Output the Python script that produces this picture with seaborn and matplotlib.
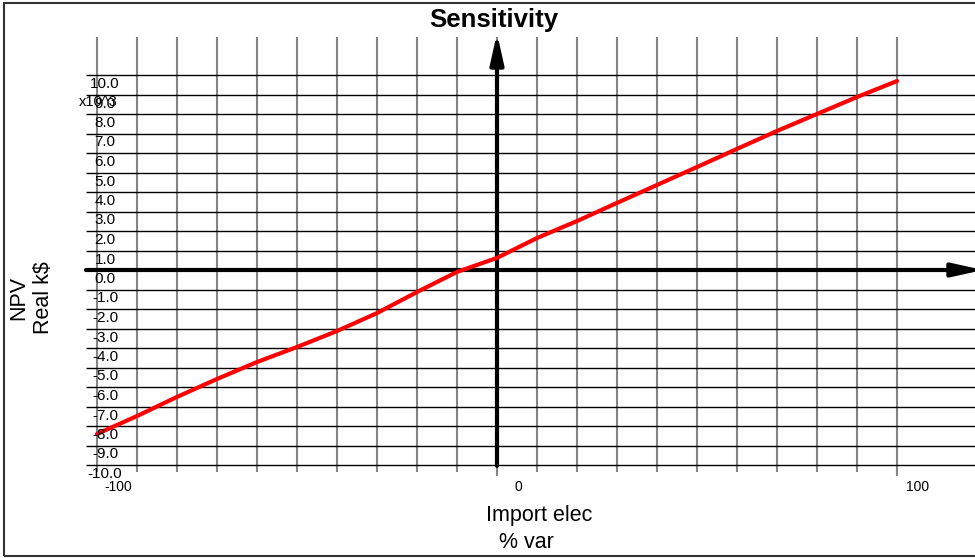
import matplotlib
matplotlib.use("Agg")
import matplotlib.pyplot as plt
from matplotlib.patches import Rectangle
import pandas as pd
import seaborn as sns

# Sensitivity of NPV (thousands of real $) to the import electricity variation (%)
pct_var = [-100, -90, -80, -70, -60, -50, -40, -30, -20, -10, 0,
           10, 20, 30, 40, 50, 60, 70, 80, 90, 100]
npv_k = [-8.41, -7.49, -6.51, -5.59, -4.72, -3.95, -3.13, -2.21, -1.13, -0.10, 0.62,
         1.64, 2.51, 3.44, 4.36, 5.28, 6.21, 7.13, 8.00, 8.87, 9.69]

x_grid = list(range(-100, 101, 10))
x_tick_labels = [-100, 0, 100]
y_ticks = list(range(-10, 11))
y_scale_label = "x10^3"
title = "Sensitivity"
x_label_lines = ["Import elec", "% var"]
y_label = "NPV\nReal k$"

sns.set_style("white")
plt.rcParams["font.family"] = ["Liberation Sans", "DejaVu Sans"]
plt.rcParams["text.color"] = "black"

W, H = 975, 558
fig = plt.figure(figsize=(W / 100, H / 100), dpi=100)
ax = fig.add_axes([0, 0, 1, 1])

# pixel <-> data helpers: origin of the cross axes and pixels per unit
X0, Y0, SX, SY = 497, 270, 4.0, 19.5


def dx(px):
    return (px - X0) / SX


def dy(py):
    return (Y0 - py) / SY


# grid
ax.vlines(x_grid, dy(472), dy(37), color="#858585", lw=1.5, zorder=1)
ax.hlines(y_ticks, dx(86), dx(W), color="black", lw=1.0, zorder=1)
ax.vlines([0, 100], dy(476), dy(470), color="#858585", lw=1.5, zorder=1)

# cross axes with arrows
arrow = dict(arrowstyle="-|>,head_length=1.8,head_width=0.4", lw=3,
             color="black", shrinkA=0, shrinkB=0, mutation_scale=10)
ax.annotate("", xy=(dx(983), 0), xytext=(dx(86), 0), arrowprops=arrow,
            annotation_clip=False, zorder=2)
ax.annotate("", xy=(0, dy(33)), xytext=(0, dy(466)), arrowprops=arrow,
            annotation_clip=False, zorder=2)

# data line
df = pd.DataFrame({"pct": pct_var, "npv": npv_k})
sns.lineplot(data=df, x="pct", y="npv", color="#ff0000", lw=3, ax=ax, zorder=3)
ax.axis("off")
ax.set_xlim(dx(0), dx(W))
ax.set_ylim(dy(H), dy(0))

# tick labels
for v in y_ticks:
    ax.text(dx(105), v - 9 / SY, f"{v:.1f}", ha="center", va="center",
            fontsize=11, zorder=4)
for v in x_tick_labels:
    ax.text(v + 21 / SX, dy(487), str(v), ha="center", va="center",
            fontsize=10, zorder=4)
ax.text(dx(98), dy(102), y_scale_label, ha="center", va="center",
        fontsize=10.5, zorder=4)

# titles
fig.text(494 / W, 1 - 20 / H, title, fontsize=18.5, fontweight="bold",
         ha="center", va="center")
fig.text(539 / W, 1 - 516 / H, x_label_lines[0], fontsize=15.5,
         ha="center", va="center")
fig.text(526 / W, 1 - 543 / H, x_label_lines[1], fontsize=15.5,
         ha="center", va="center")
fig.text(31 / W, 1 - 298 / H, y_label, fontsize=15.5, ha="center",
         va="center", rotation=90, linespacing=1.2)

# frame
fig.add_artist(Rectangle((4 / W, 1 - 556 / H), 1.0, 553 / H,
                         transform=fig.transFigure, fill=False,
                         edgecolor="#333333", lw=1.5))

fig.savefig("out.png", dpi=100)
